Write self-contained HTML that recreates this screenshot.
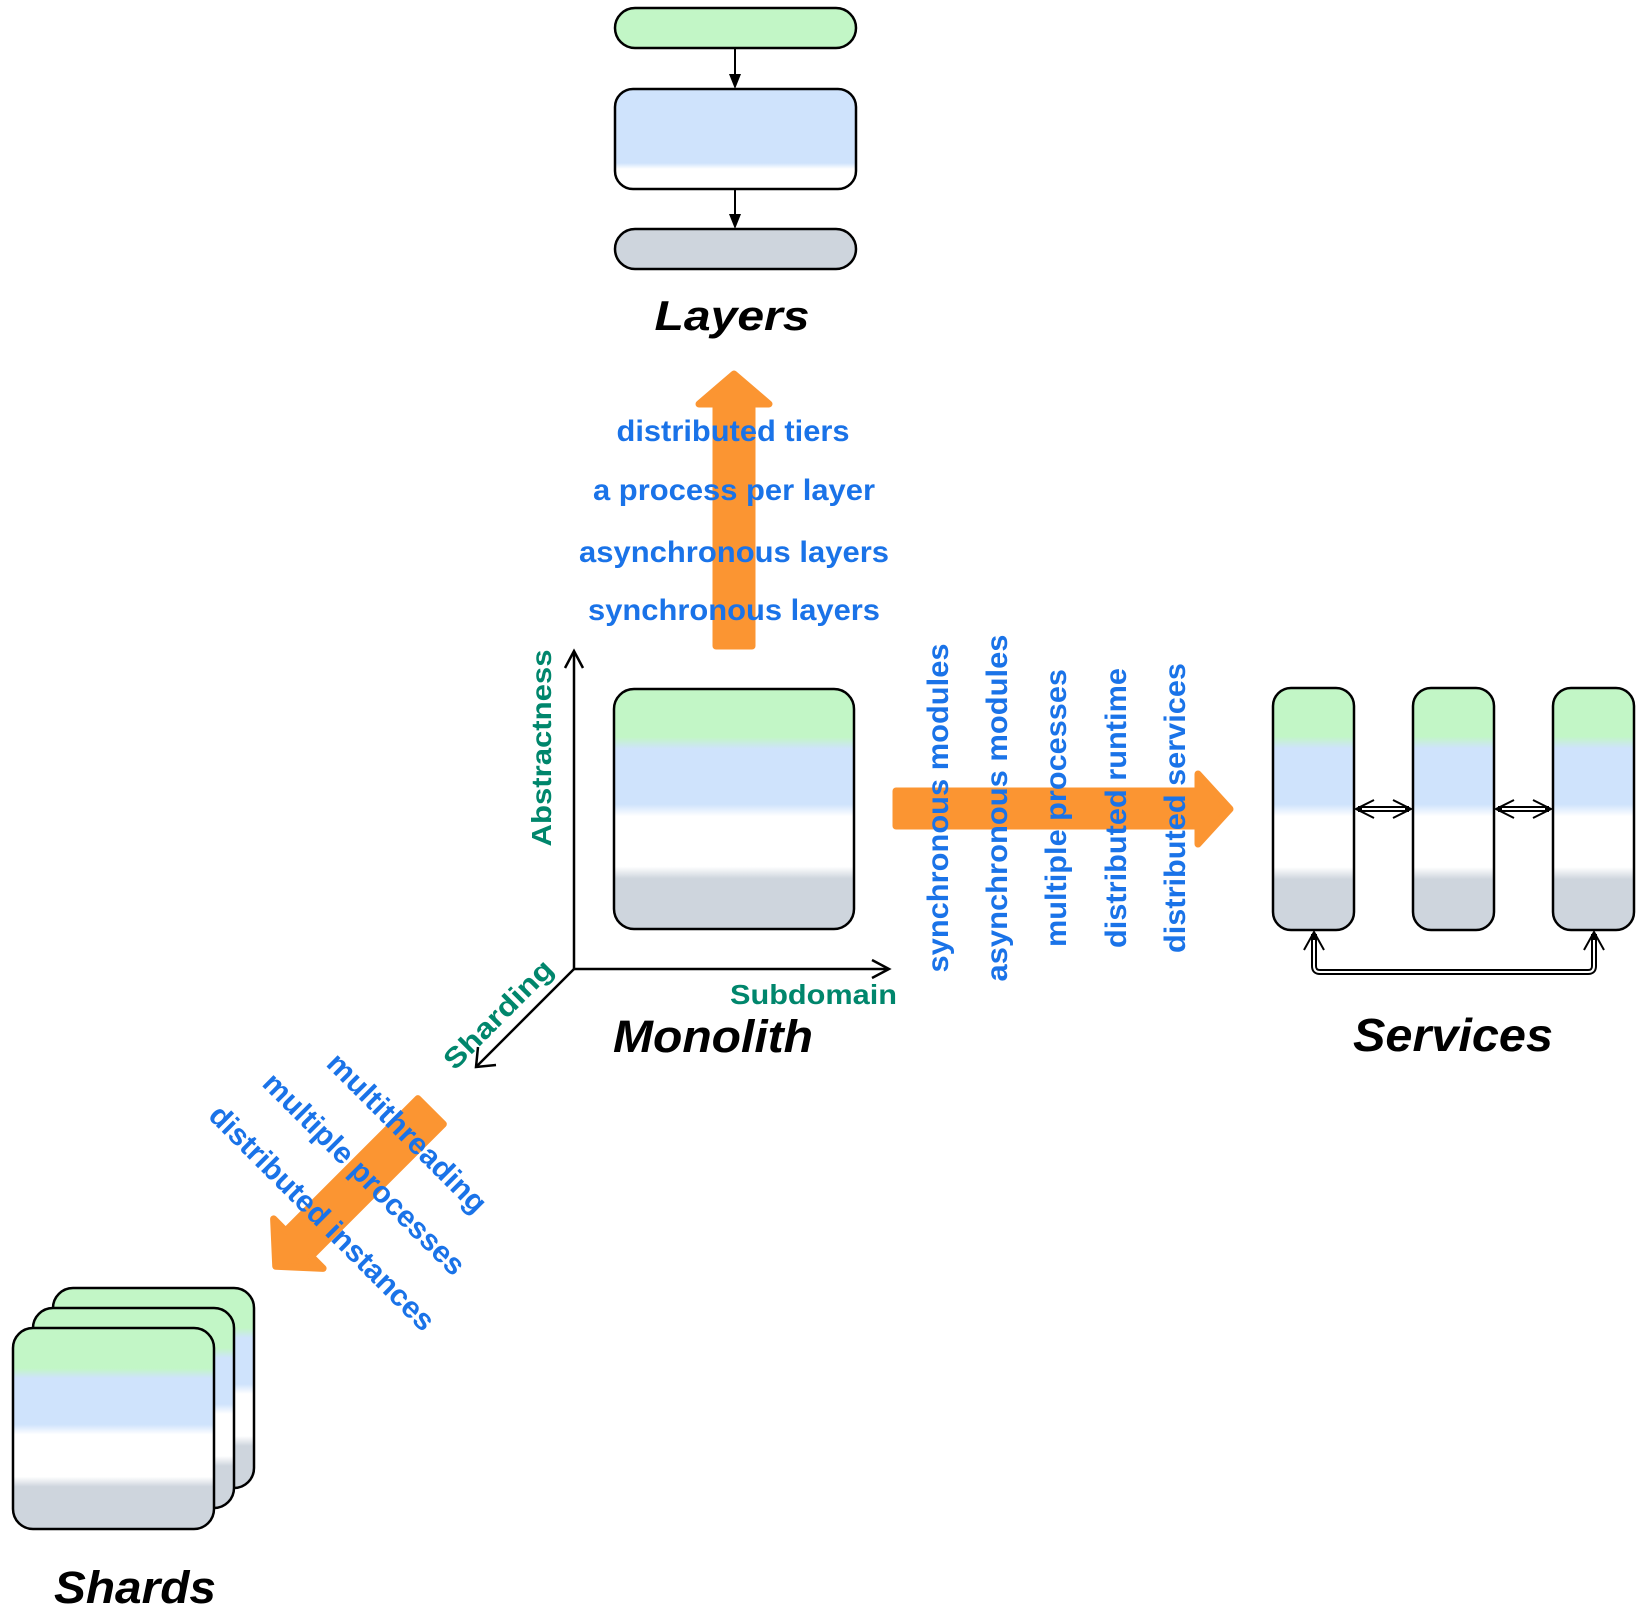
<!DOCTYPE html>
<html><head><meta charset="utf-8"><style>
html,body{margin:0;padding:0;background:#fff;}
svg{display:block;}
text{font-family:"Liberation Sans",Arial,sans-serif;font-weight:bold;}
</style></head><body>
<svg width="1649" height="1619" viewBox="0 0 1649 1619" xmlns="http://www.w3.org/2000/svg">
<defs>
<linearGradient id="g" x1="0" y1="0" x2="0" y2="1">
<stop offset="0" stop-color="#c2f6c6"/>
<stop offset="0.2" stop-color="#c2f6c6"/>
<stop offset="0.25" stop-color="#cfe3fc"/>
<stop offset="0.48" stop-color="#cfe3fc"/>
<stop offset="0.53" stop-color="#ffffff"/>
<stop offset="0.74" stop-color="#ffffff"/>
<stop offset="0.79" stop-color="#ced5dd"/>
<stop offset="1" stop-color="#ced5dd"/>
</linearGradient>
<linearGradient id="gm" x1="0" y1="0" x2="0" y2="1">
<stop offset="0" stop-color="#cfe3fc"/>
<stop offset="0.74" stop-color="#cfe3fc"/>
<stop offset="0.8" stop-color="#ffffff"/>
<stop offset="1" stop-color="#ffffff"/>
</linearGradient>
</defs>

<!-- Layers -->
<rect x="615" y="8" width="241" height="40" rx="20" fill="#c2f6c6" stroke="#000" stroke-width="2.5"/>
<rect x="615" y="89" width="241" height="100" rx="18" fill="url(#gm)" stroke="#000" stroke-width="2.5"/>
<rect x="615" y="229" width="241" height="40" rx="20" fill="#ced5dd" stroke="#000" stroke-width="2.5"/>
<line x1="735" y1="48" x2="735" y2="76" stroke="#000" stroke-width="2"/>
<polygon points="729,74 741,74 735,89" fill="#000"/>
<line x1="735" y1="189" x2="735" y2="216" stroke="#000" stroke-width="2"/>
<polygon points="729,214 741,214 735,229" fill="#000"/>
<text x="732" y="330" font-size="42" font-style="italic" text-anchor="middle" textLength="155" lengthAdjust="spacingAndGlyphs">Layers</text>

<!-- Up arrow -->
<polygon points="716,646 716,404 699,404 734,374 769,404 752,404 752,646" fill="#fb9532" stroke="#fb9532" stroke-width="7" stroke-linejoin="round"/>
<g fill="#1a73e8" font-size="30" text-anchor="middle">
<text x="733" y="441" textLength="233" lengthAdjust="spacingAndGlyphs">distributed tiers</text>
<text x="734" y="500" textLength="282" lengthAdjust="spacingAndGlyphs">a process per layer</text>
<text x="734" y="562" textLength="310" lengthAdjust="spacingAndGlyphs">asynchronous layers</text>
<text x="734" y="620" textLength="292" lengthAdjust="spacingAndGlyphs">synchronous layers</text>
</g>

<!-- Monolith -->
<rect x="614" y="689" width="240" height="240" rx="20" fill="url(#g)" stroke="#000" stroke-width="2.5"/>
<g stroke="#000" stroke-width="2.5" fill="none">
<line x1="574" y1="969" x2="574" y2="652"/>
<polyline points="565,668 574,651 583,668"/>
<line x1="574" y1="969" x2="888" y2="969"/>
<polyline points="872,960 889,969 872,978"/>
<line x1="574" y1="969" x2="477" y2="1066"/>
<polyline points="478,1047 476,1067 496,1065"/>
</g>
<g fill="#00866c" font-size="28">
<text transform="translate(551,748) rotate(-90)" text-anchor="middle" textLength="197" lengthAdjust="spacingAndGlyphs">Abstractness</text>
<text x="730" y="1004" textLength="167" lengthAdjust="spacingAndGlyphs">Subdomain</text>
<text transform="translate(505,1021) rotate(-45)" text-anchor="middle" textLength="142" lengthAdjust="spacingAndGlyphs">Sharding</text>
</g>
<text x="613" y="1052" font-size="45" font-style="italic" textLength="200" lengthAdjust="spacingAndGlyphs">Monolith</text>

<!-- Right arrow -->
<polygon points="896,791 1198,791 1198,774 1230,809 1198,844 1198,826 896,826" fill="#fb9532" stroke="#fb9532" stroke-width="7" stroke-linejoin="round"/>
<g fill="#1a73e8" font-size="30" text-anchor="middle">
<text transform="translate(948,808) rotate(-90)" textLength="329" lengthAdjust="spacingAndGlyphs">synchronous modules</text>
<text transform="translate(1007,808) rotate(-90)" textLength="347" lengthAdjust="spacingAndGlyphs">asynchronous modules</text>
<text transform="translate(1066,808) rotate(-90)" textLength="278" lengthAdjust="spacingAndGlyphs">multiple processes</text>
<text transform="translate(1126,808) rotate(-90)" textLength="280" lengthAdjust="spacingAndGlyphs">distributed runtime</text>
<text transform="translate(1185,808) rotate(-90)" textLength="290" lengthAdjust="spacingAndGlyphs">distributed services</text>
</g>

<!-- Services -->
<rect x="1273" y="688" width="81" height="242" rx="18" fill="url(#g)" stroke="#000" stroke-width="2.5"/>
<rect x="1413" y="688" width="81" height="242" rx="18" fill="url(#g)" stroke="#000" stroke-width="2.5"/>
<rect x="1553" y="688" width="81" height="242" rx="18" fill="url(#g)" stroke="#000" stroke-width="2.5"/>
<g fill="none" stroke-linecap="butt">
<line x1="1358" y1="809" x2="1409" y2="809" stroke="#000" stroke-width="6"/>
<line x1="1362" y1="809" x2="1405" y2="809" stroke="#fff" stroke-width="2"/>
<line x1="1498" y1="809" x2="1549" y2="809" stroke="#000" stroke-width="6"/>
<line x1="1502" y1="809" x2="1545" y2="809" stroke="#fff" stroke-width="2"/>
<path d="M1314,934 V966 Q1314,972 1320,972 H1588 Q1594,972 1594,966 V934" stroke="#000" stroke-width="6"/>
<path d="M1314,940 V966 Q1314,972 1320,972 H1588 Q1594,972 1594,966 V940" stroke="#fff" stroke-width="2"/>
</g>
<g fill="none" stroke="#000" stroke-width="2">
<polyline points="1374,800 1356,809 1374,818"/>
<polyline points="1393,800 1411,809 1393,818"/>
<polyline points="1514,800 1496,809 1514,818"/>
<polyline points="1533,800 1551,809 1533,818"/>
<polyline points="1304,950 1314,932 1324,950"/>
<polyline points="1584,950 1594,932 1604,950"/>
</g>
<text x="1453" y="1051" font-size="46" font-style="italic" text-anchor="middle" textLength="200" lengthAdjust="spacingAndGlyphs">Services</text>

<!-- Diagonal arrow -->
<g transform="translate(432,1110) rotate(135)">
<polygon points="2,-18 189,-18 189,-35 221,0 189,35 189,18 2,18" fill="#fb9532" stroke="#fb9532" stroke-width="7" stroke-linejoin="round"/>
</g>
<g fill="#1a73e8" font-size="30" text-anchor="middle">
<text transform="translate(400,1140) rotate(45)" textLength="212" lengthAdjust="spacingAndGlyphs">multithreading</text>
<text transform="translate(357,1181) rotate(45)" textLength="272" lengthAdjust="spacingAndGlyphs">multiple processes</text>
<text transform="translate(315,1225) rotate(45)" textLength="305" lengthAdjust="spacingAndGlyphs">distributed instances</text>
</g>

<!-- Shards -->
<rect x="53" y="1288" width="201" height="200" rx="20" fill="url(#g)" stroke="#000" stroke-width="2.5"/>
<rect x="33" y="1308" width="201" height="200" rx="20" fill="url(#g)" stroke="#000" stroke-width="2.5"/>
<rect x="13" y="1328" width="201" height="201" rx="20" fill="url(#g)" stroke="#000" stroke-width="2.5"/>
<text x="135" y="1603" font-size="45" font-style="italic" text-anchor="middle" textLength="162" lengthAdjust="spacingAndGlyphs">Shards</text>
</svg>
</body></html>
